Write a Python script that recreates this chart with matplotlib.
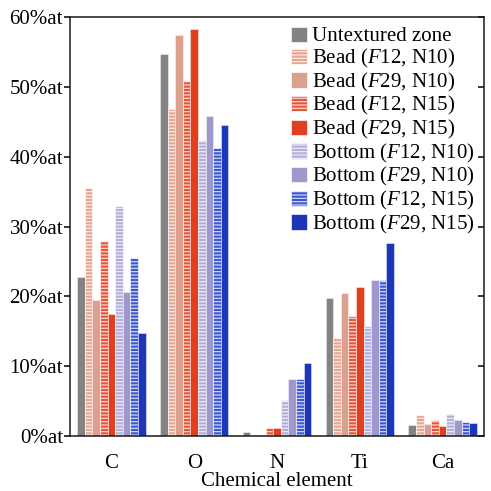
import numpy as np
import matplotlib
matplotlib.use("Agg")
import matplotlib.pyplot as plt
from matplotlib.patches import Patch

plt.rcParams['font.family'] = ['Liberation Serif', 'DejaVu Serif']
plt.rcParams['mathtext.fontset'] = 'custom'
plt.rcParams['mathtext.rm'] = 'Liberation Serif'
plt.rcParams['mathtext.it'] = 'Liberation Serif:italic'
plt.rcParams['hatch.linewidth'] = 0.9

# data (at.%)
elements = ['C', 'O', 'N', 'Ti', 'Ca']
series = ['Untextured zone',
          'Bead ($\\mathit{F}$12, N10)', 'Bead ($\\mathit{F}$29, N10)',
          'Bead ($\\mathit{F}$12, N15)', 'Bead ($\\mathit{F}$29, N15)',
          'Bottom ($\\mathit{F}$12, N10)', 'Bottom ($\\mathit{F}$29, N10)',
          'Bottom ($\\mathit{F}$12, N15)', 'Bottom ($\\mathit{F}$29, N15)']
untextured = [22.8, 54.7, 0.6, 19.8, 1.6]
bead_f12_n10 = [35.5, 46.8, 0.1, 14.1, 3.0]
bead_f29_n10 = [19.5, 57.5, 0.15, 20.5, 1.7]
bead_f12_n15 = [28.0, 50.8, 1.2, 17.2, 2.25]
bead_f29_n15 = [17.5, 58.3, 1.1, 21.3, 1.45]
bottom_f12_n10 = [33.0, 42.4, 5.1, 15.8, 3.1]
bottom_f29_n10 = [20.7, 45.9, 8.2, 22.4, 2.25]
bottom_f12_n15 = [25.5, 41.3, 8.2, 22.4, 2.05]
bottom_f29_n15 = [14.8, 44.5, 10.5, 27.7, 1.9]
yticks = [0, 10, 20, 30, 40, 50, 60]

values = [untextured, bead_f12_n10, bead_f29_n10, bead_f12_n15, bead_f29_n15,
          bottom_f12_n10, bottom_f29_n10, bottom_f12_n15, bottom_f29_n15]
colors = ['#838383', '#e9a593', '#dba08e', '#e8553a', '#e0401e',
          '#b2aedc', '#9e98cc', '#3a58d0', '#1c36b8']
hatches = [None, '-----', None, '-----', None, '-----', None, '-----', None]

fig = plt.figure(figsize=(4.91, 4.91), dpi=100)
ax = fig.add_axes([0.1426, 0.112, 0.843, 0.853])

x = np.arange(len(elements))
w = 0.0917
n = len(values)
for i, (vals, c, h) in enumerate(zip(values, colors, hatches)):
    pos = x + (i - (n - 1) / 2) * w
    if h:
        ax.bar(pos, vals, w, color=c, edgecolor=(1, 1, 1, 0.75), linewidth=0.6, hatch=h)
    else:
        ax.bar(pos, vals, w, color=c, edgecolor=(1, 1, 1, 0.5), linewidth=0.6)

ax.set_xlim(-0.5, 4.5)
ax.set_ylim(0, 60)
ax.set_xticks(x)
ax.set_xticklabels(elements, fontsize=15)
ax.tick_params(axis='x', length=0, pad=13)
ax.set_yticks(yticks)
ax.set_yticklabels([f'{t}%at' for t in yticks], fontsize=15)
ax.tick_params(axis='y', direction='out', length=4, width=1.1, pad=1)
ax.tick_params(axis='y', which='both', right=True, labelright=False)
# right-side ticks point inward
for t in ax.yaxis.get_ticklines()[1::2]:
    t.set_marker(matplotlib.lines.TICKLEFT)
ax.set_xlabel('Chemical element', fontsize=15, labelpad=-1)
for s in ax.spines.values():
    s.set_linewidth(1.1)
    s.set_color('#1a1a1a')

handles = [Patch(facecolor=c, edgecolor=(1, 1, 1, 0.75), linewidth=0.6, hatch=h)
           for c, h in zip(colors, hatches)]
ax.legend(handles, series, loc='upper right', frameon=False, fontsize=15,
          handlelength=0.75, handleheight=0.75, handletextpad=0.25,
          labelspacing=0.03, borderaxespad=0.2, borderpad=0.25)

fig.savefig('out.png', dpi=100)
